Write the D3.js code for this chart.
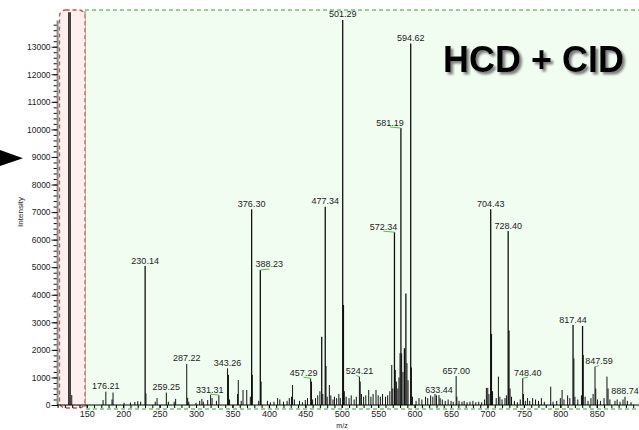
<!DOCTYPE html>
<html>
<head>
<meta charset="utf-8">
<script src="https://cdn.jsdelivr.net/npm/d3@7"></script>
<style>
  body { margin: 0; background: #fff; }
  svg { display: block; font-family: 'Liberation Sans', Arial, sans-serif; }
</style>
</head>
<body>
<div id="chart"></div>
<script>
// spectrum peaks: m/z and intensity
const peakMz = [
  125.4, 127.2, 129.4,
  172.4, 176.21, 184.7, 186.1, 201.2, 210, 216, 220, 224,
  230.14, 231.2, 244, 246.5, 259.25, 262, 270, 272,
  287.22, 288.5, 290, 300, 305, 308, 310, 316, 320, 322, 328, 331.31,
  343.26, 344.5, 346, 357, 358, 362, 364.5, 369.6, 374.5,
  376.30, 377.3, 386, 388.23, 389.3,
  398, 402, 407, 412, 415, 420, 425, 428, 431, 432.5, 435,
  442, 446, 450, 453, 457.29, 458.5, 460, 464, 467, 470,
  472.5, 474, 477.34, 478.4, 480, 483, 485, 488, 490, 493, 496, 498,
  501.29, 502.3, 503.5, 506, 510, 513, 517, 520,
  524.21, 525.3, 527, 530, 533, 537, 540, 543, 547, 550, 553, 556, 560, 563, 566,
  568.6, 570, 572.34, 573.5, 575, 577, 578.5, 580, 581.19, 582.2, 584,
  586, 588, 589.5, 591, 594.62, 595.6, 597,
  602, 606, 610, 615, 618, 622, 625, 628, 630, 633.44, 635, 638, 642, 646, 650, 653,
  657.00, 658, 661, 665, 668, 672, 676, 680, 684, 688, 692, 696,
  698.5, 700.4, 702, 704.43, 705.4, 707, 712, 715, 717, 720, 724, 726,
  728.40, 729.5, 731, 733, 737, 741, 745,
  748.40, 749.5, 752, 755, 758, 762, 766, 770, 774, 778,
  786.8, 790, 795, 800, 802.4, 805, 810, 813,
  817.44, 818.6, 820, 824, 829, 830.5, 831.5, 834, 838, 842, 845,
  847.59, 848.6, 851, 855, 860, 864, 865.5, 868,
  875, 878, 882, 886, 888.74, 892, 897
]
const peakIntensity = [
  14250, 14250, 360,
  180, 485, 200, 450, 80, 90, 110, 140, 120,
  5040, 420, 120, 250, 450, 120, 120, 220,
  1490, 260, 120, 80, 150, 220, 120, 180, 360, 250, 150, 360,
  1330, 1090, 200, 400, 905, 150, 545, 545, 300,
  7100, 1090, 150, 4900, 850,
  150, 100, 120, 250, 200, 120, 150, 250, 300, 725, 200,
  150, 100, 180, 250, 970, 850, 200, 250, 350, 500,
  2480, 400, 7195, 1415, 300, 725, 350, 200, 300, 250, 400, 250,
  13970, 3630, 500, 300, 250, 350, 200, 300,
  1030, 850, 400, 300, 350, 545, 300, 400, 545, 350, 300, 400, 300, 350, 500,
  1450, 600, 6270, 1270, 850, 600, 1000, 1875, 10050, 1875, 1200,
  2060, 4050, 1520, 900, 13120, 1360, 300,
  150, 250, 200, 300, 250, 350, 300, 400, 350, 360, 250, 200, 150, 200, 150, 120,
  1050, 300, 150, 120, 150, 100, 120, 150, 100, 120, 100, 200,
  620, 620, 400, 7100, 2580, 500, 250, 1030, 300, 200, 250, 350,
  6310, 2700, 600, 300, 150, 100, 200,
  970, 400, 150, 250, 150, 250, 200, 150, 250, 120,
  665, 120, 150, 250, 545, 200, 350, 250,
  2900, 1690, 300, 200, 350, 2866, 1815, 300, 150, 250, 400,
  1390, 600, 200, 150, 250, 1030, 600, 200,
  150, 200, 120, 200, 300, 150, 100
]
// annotated peaks
const labelMz = [176.21, 230.14, 259.25, 287.22, 331.31, 343.26, 376.30, 388.23,
  457.29, 477.34, 501.29, 524.21, 572.34, 581.19, 594.62, 633.44, 657.00,
  704.43, 728.40, 748.40, 817.44, 847.59, 888.74]
// labels that sit beside their peak, with a green leader
const labelShift = { 331.31: -9, 388.23: 9, 457.29: -7, 524.21: 0, 572.34: -11,
  581.19: -11, 748.40: 5, 847.59: 4 }
const yTicks = d3.range(0, 14000, 1000)
const xTicks = d3.range(150, 900, 50)

const W = 639
const H = 430

const svg = d3.select('#chart').append('svg')
  .attr('width', W)
  .attr('height', H)

const defs = svg.append('defs')
const shadow = defs.append('filter').attr('id', 'shadow')
  .attr('x', '-10%').attr('y', '-20%').attr('width', '130%').attr('height', '160%')
shadow.append('feDropShadow')
  .attr('dx', 2.5).attr('dy', 2.5).attr('stdDeviation', 1)
  .attr('flood-color', '#666').attr('flood-opacity', 0.85)

const x = d3.scaleLinear().domain([110, 910]).range([57.6, 57.6 + 800 * 0.7286])
const y = d3.scaleLinear().domain([0, 13950]).range([405, 405 - 13950 * 0.02756])

// shaded regions
svg.append('rect')
  .attr('x', 85).attr('y', 10).attr('width', 580).attr('height', 399)
  .attr('fill', '#f2fdf2')
  .attr('stroke', '#3a9a3a').attr('stroke-width', 1)
  .attr('stroke-dasharray', '4,3')
svg.append('rect')
  .attr('x', 59.5).attr('y', 10).attr('width', 25.5).attr('height', 398)
  .attr('rx', 6)
  .attr('fill', '#fff0f0')
  .attr('stroke', '#c85050').attr('stroke-width', 1.3)
  .attr('stroke-dasharray', '4,3')

// peaks
const peaks = peakMz.map((m, i) => ({ mz: m, v: peakIntensity[i] }))
svg.append('g').selectAll('line')
  .data(peaks)
  .enter()
  .append('line')
  .attr('x1', d => x(d.mz))
  .attr('x2', d => x(d.mz))
  .attr('y1', y(0))
  .attr('y2', d => y(d.v))
  .attr('stroke', '#111')
  .attr('stroke-width', d => d.v > 2000 ? 1.3 : 1)

// y axis
const yMinor = svg.append('g')
  .attr('transform', 'translate(57.6,0)')
  .call(d3.axisLeft(y).tickValues(d3.range(0, 13950, 200)).tickSize(4).tickFormat(''))
yMinor.select('.domain').remove()
const yAxis = svg.append('g')
  .attr('transform', 'translate(57.6,0)')
  .call(d3.axisLeft(y).tickValues(yTicks).tickSize(6).tickPadding(1).tickFormat(d3.format('d')))
yAxis.select('.domain').attr('stroke', '#888').attr('stroke-width', 2)
  .attr('d', 'M0,' + y(0) + 'V' + y(13950))
yAxis.selectAll('text').attr('font-size', 8.5).attr('fill', '#222')
svg.selectAll('.tick line').attr('stroke', '#111')

// x axis
const xMinor = svg.append('g')
  .attr('transform', 'translate(0,405)')
  .call(d3.axisBottom(x).tickValues(d3.range(110, 910, 10)).tickSize(3).tickFormat(''))
xMinor.select('.domain').attr('stroke', '#000').attr('d', 'M57,0H639')
const xAxis = svg.append('g')
  .attr('transform', 'translate(0,405)')
  .call(d3.axisBottom(x).tickValues(xTicks).tickSize(3).tickPadding(3))
xAxis.select('.domain').remove()
xAxis.selectAll('text').attr('font-size', 9).attr('fill', '#222')
xAxis.selectAll('.tick line').attr('stroke', '#000')

// axis titles
svg.append('text')
  .attr('transform', 'translate(23,212) rotate(-90)')
  .attr('text-anchor', 'middle')
  .attr('font-size', 8)
  .attr('fill', '#222')
  .text('Intensity')
svg.append('text')
  .attr('x', 342).attr('y', 428)
  .attr('text-anchor', 'middle')
  .attr('font-size', 7)
  .attr('fill', '#222')
  .text('m/z')

// peak annotations
const labels = labelMz.map(m => {
  const i = peakMz.indexOf(m)
  return { mz: m, v: peakIntensity[i], dx: labelShift[m] }
})
const ann = svg.append('g')
ann.selectAll('line')
  .data(labels.filter(d => d.dx !== undefined))
  .enter()
  .append('line')
  .attr('x1', d => x(d.mz))
  .attr('y1', d => y(d.v))
  .attr('x2', d => x(d.mz) + (d.dx === 0 ? -3 : d.dx))
  .attr('y2', d => y(d.v) - 1)
  .attr('stroke', '#4cc24c')
  .attr('stroke-width', 1)
ann.selectAll('text')
  .data(labels)
  .enter()
  .append('text')
  .attr('x', d => x(d.mz) + (d.dx || 0))
  .attr('y', d => y(d.v) - 2.5)
  .attr('text-anchor', 'middle')
  .attr('font-size', 9)
  .attr('fill', '#222')
  .text(d => d.mz.toFixed(2))

// title
svg.append('text')
  .attr('x', 443).attr('y', 72)
  .attr('font-size', 36)
  .attr('font-weight', 'bold')
  .attr('fill', '#000')
  .attr('filter', 'url(#shadow)')
  .text('HCD + CID')

// arrow marker
svg.append('path')
  .attr('d', 'M0,150L23,158.3L0,166Z')
  .attr('fill', '#000')
</script>
</body>
</html>
